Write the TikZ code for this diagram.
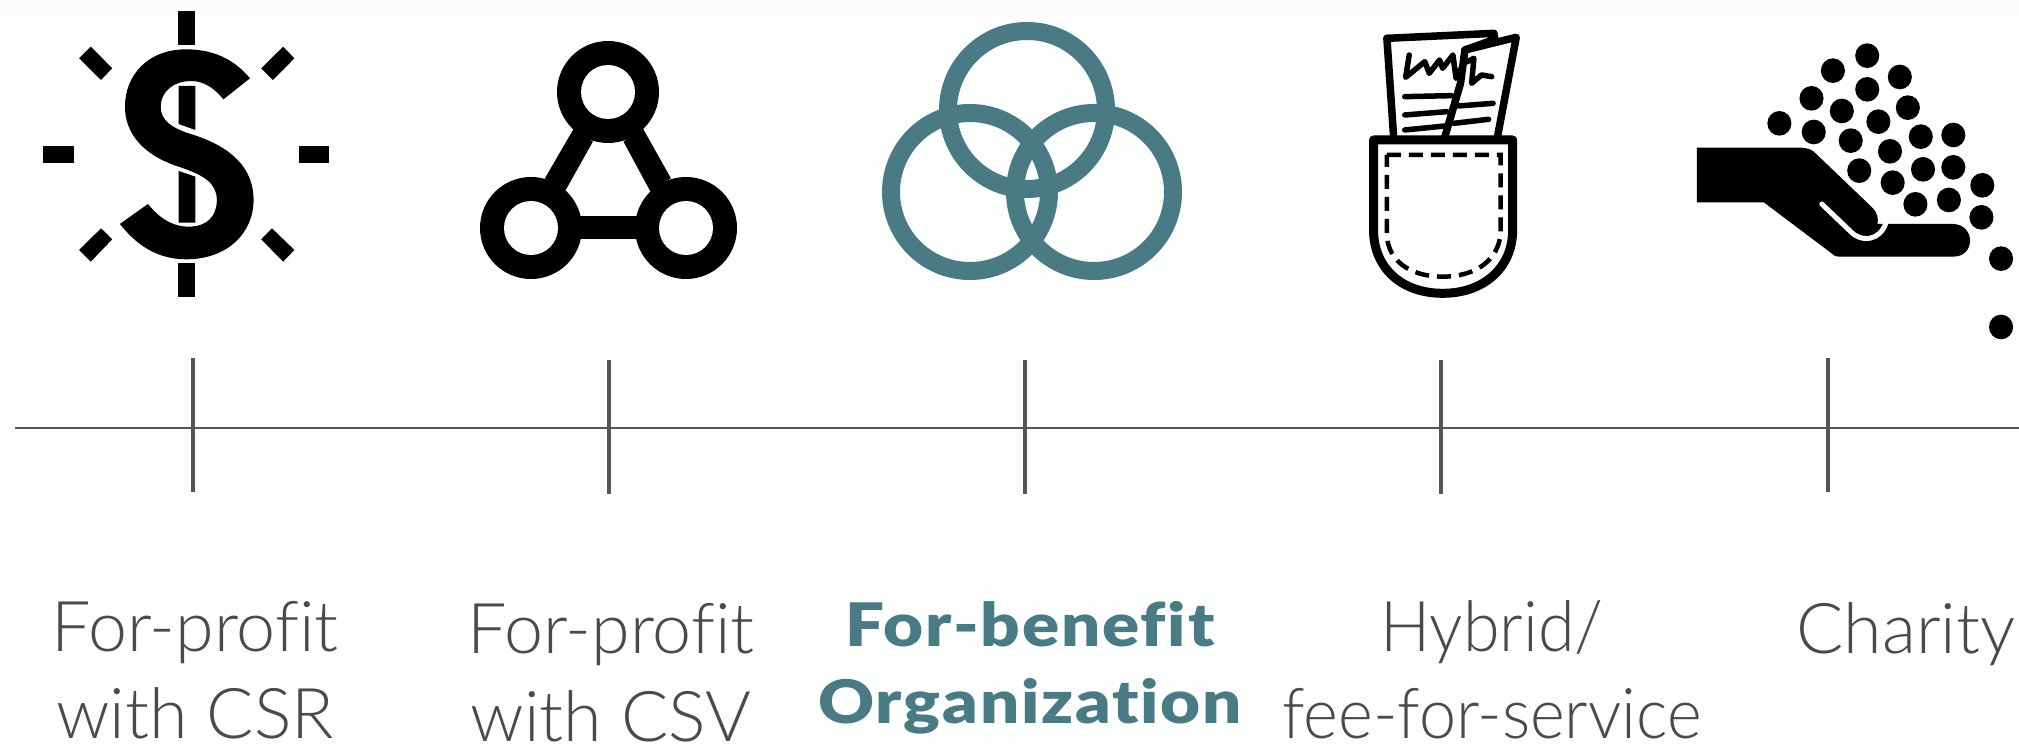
\documentclass[tikz,border=0pt]{standalone}
\usepackage{fontspec}
\setmainfont{Lato}[UprightFont=* Light,BoldFont=* Black,Ligatures=CommonOff]
\newfontfamily\heavyfont{Lato}[UprightFont=* Black,FakeStretch=1.15,LetterSpace=3,Ligatures=CommonOff]
\newfontfamily\slimfont{Lato}[UprightFont=* Light,FakeStretch=0.95,Ligatures=CommonOff]
\definecolor{bgc}{HTML}{FDFEFE}
\definecolor{topc}{HTML}{FCFCFD}
\definecolor{teal1}{HTML}{4A7A84}
\definecolor{txt}{HTML}{4A4A4A}
\definecolor{axisc}{HTML}{555555}
\tikzset{
  axisline/.style={draw=axisc,line width=2.5pt},
  tickline/.style={draw=axisc,line width=4pt},
  lab/.style={anchor=base,text=txt,font=\fontsize{70}{70}\selectfont,inner sep=0pt},
  slab/.style={anchor=base,text=txt,font=\fontsize{70}{70}\selectfont\slimfont,inner sep=0pt},
  blab/.style={anchor=base,text=teal1,font=\fontsize{60}{60}\selectfont\heavyfont,inner sep=0pt},
  ring/.style={draw=teal1,line width=18pt},
  zone/.style={x=0.4460pt,y=-0.3333pt},
  paper/.style={draw=black,line width=7.5pt,line join=round,line cap=round},
  scrib/.style={draw=black,line width=5.5pt,line join=round,line cap=round},
  seed/.style={fill=black,draw=none}
}
\begin{document}
\begin{tikzpicture}[x=1pt,y=-1pt]
\useasboundingbox (0,0) rectangle (2019,746);
\fill[bgc] (0,0) rectangle (2019,746);
\fill[topc] (0,0) rectangle (2019,22);
% dollar
\begin{scope}[x=0.5102pt,y=-0.3333pt]
\fill[black] (348,33) rectangle (383,135);
\fill[black] (348,790) rectangle (383,890);
\fill[black] (85,437) rectangle (145,488);
\fill[black] (587,437) rectangle (645,488);
\fill[black] (178,140)--(155,175)--(198,240)--(220,205)--cycle;
\fill[black] (555,140)--(577,175)--(535,240)--(512,205)--cycle;
\fill[black] (198,685)--(220,718)--(178,785)--(155,750)--cycle;
\fill[black] (533,685)--(512,718)--(555,785)--(577,750)--cycle;
\fill[black] (490,235) .. controls (460,180) and (420,148) .. (365,148) .. controls (290,148) and (245,225) .. (245,320) .. controls (245,400) and (280,465) .. (350,500) .. controls (400,525) and (425,550) .. (425,600) .. controls (425,650) and (405,680) .. (370,680) .. controls (335,680) and (310,650) .. (290,612) -- (235,672) .. controls (265,730) and (305,778) .. (365,778) .. controls (445,778) and (497,700) .. (497,600) .. controls (497,500) and (450,440) .. (380,405) .. controls (335,385) and (315,360) .. (315,320) .. controls (315,275) and (340,243) .. (375,243) .. controls (400,243) and (420,265) .. (438,298) -- cycle;
\fill[black] (350,258)--(383,258)--(383,390)--(350,372)--cycle;
\fill[black] (350,513)--(383,530)--(383,668)--(350,668)--cycle;
\fill[black] (1125,385)--(1068,535)--(1107,575)--(1162,425)--cycle;
\fill[black] (1260,385)--(1315,535)--(1275,575)--(1222,425)--cycle;
\fill[black] (1100,648) rectangle (1280,718);
\end{scope}
% network
\fill[black] (608,92) circle (51);
\fill[black] (531,228) circle (51);
\fill[black] (686,228) circle (51);
\fill[bgc] (608,92) circle (27);
\fill[bgc] (531,228) circle (27);
\fill[bgc] (686,228) circle (27);
% rings
\draw[ring] (1027,110) circle (79);
\draw[ring] (970,192) circle (79);
\draw[ring] (1094,192) circle (79);
% pocket
\begin{scope}[shift={(1320,0)},zone]
\draw[paper] (150,115)--(390,100)--(392,118)--(325,150);
\draw[paper] (150,115)--(165,410);
\draw[paper] (325,150)--(440,112)--(398,410);
\draw[paper] (325,150)--(315,250)--(280,410);
\draw[scrib] (200,165)--(192,232)--(235,185)--(245,220)--(268,180)--(275,205)--(298,165)--(305,235)--(322,190)--(345,175)--(340,250)--(362,225)--(385,230);
\draw[scrib] (190,290)--(295,287);
\draw[scrib] (190,345)--(285,335);
\draw[scrib] (190,390)--(280,378);
\draw[scrib] (310,318)--(388,310);
\draw[scrib] (300,370)--(378,358);
\fill[bgc] (120,420) rectangle (432,700);
\draw[black,line width=9pt,line join=round] (120,420)--(432,420)--(432,690) .. controls (432,800) and (370,880) .. (275,880) .. controls (180,880) and (120,800) .. (120,690) -- cycle;
\draw[black,line width=4.5pt,dash pattern=on 14pt off 8pt] (150,465)--(405,465)--(405,700) .. controls (400,780) and (350,830) .. (275,830) .. controls (200,830) and (150,780) .. (150,700) -- cycle;
\end{scope}
% hand
\begin{scope}[shift={(1320,0)},zone]
\fill[black] (845,443)--(1075,443) .. controls (1095,443) and (1105,450) .. (1115,465) -- (1240,625) .. controls (1250,640) and (1252,655) .. (1250,672) -- (1420,672) .. controls (1470,675) and (1470,770) .. (1420,770) -- (1165,770) .. controls (1155,770) and (1150,765) .. (1145,758) -- (995,607) -- (845,607) -- cycle;
\draw[bgc,line width=5pt,line cap=round] (1125,612) -- (1190,695) .. controls (1215,730) and (1255,720) .. (1268,672);
\foreach \cx/\cy in {1227/167,1150/212,1300/231,1227/268,1102/295,1318/323,1170/333,1252/365,1030/370,1107/396,1347/410,1420/405,1190/422,1278/454,1352/508,1420/502,1209/512,1284/548,1485/556,1335/613,1410/600,1483/652,1527/776,1527/981}
  \fill[seed] (\cx,\cy) ellipse (27 and 37);
\end{scope}
% axis
\coordinate (axl) at (15,428);
\coordinate (axr) at (2019,428);
\draw[axisline] (axl)--(axr);
\foreach \n/\tx/\ta/\tb in {a/193/358/492,b/609/360/494,c/1025/360/494,d/1441/360/494,e/1828/358/492}{
  \coordinate (t\n1) at (\tx,\ta);
  \coordinate (t\n2) at (\tx,\tb);
  \draw[tickline] (t\n1)--(t\n2);
}
% labels
\node[lab] (l1a) at (195,651) {For-profit};
\node[lab] (l1b) at (195,738) {with CSR};
\node[lab] (l2a) at (611,653) {For-profit};
\node[lab] (l2b) at (611,741) {with CSV};
\node[blab] (l3a) at (1030,646) {For-benefit};
\node[blab] (l3b) at (1030,723) {Organization};
\node[slab] (l4a) at (1492,651) {Hybrid/};
\node[slab] (l4b) at (1492,738) {fee-for-service};
\node[lab] (l5a) at (1906,653) {Charity};
\end{tikzpicture}
\end{document}
